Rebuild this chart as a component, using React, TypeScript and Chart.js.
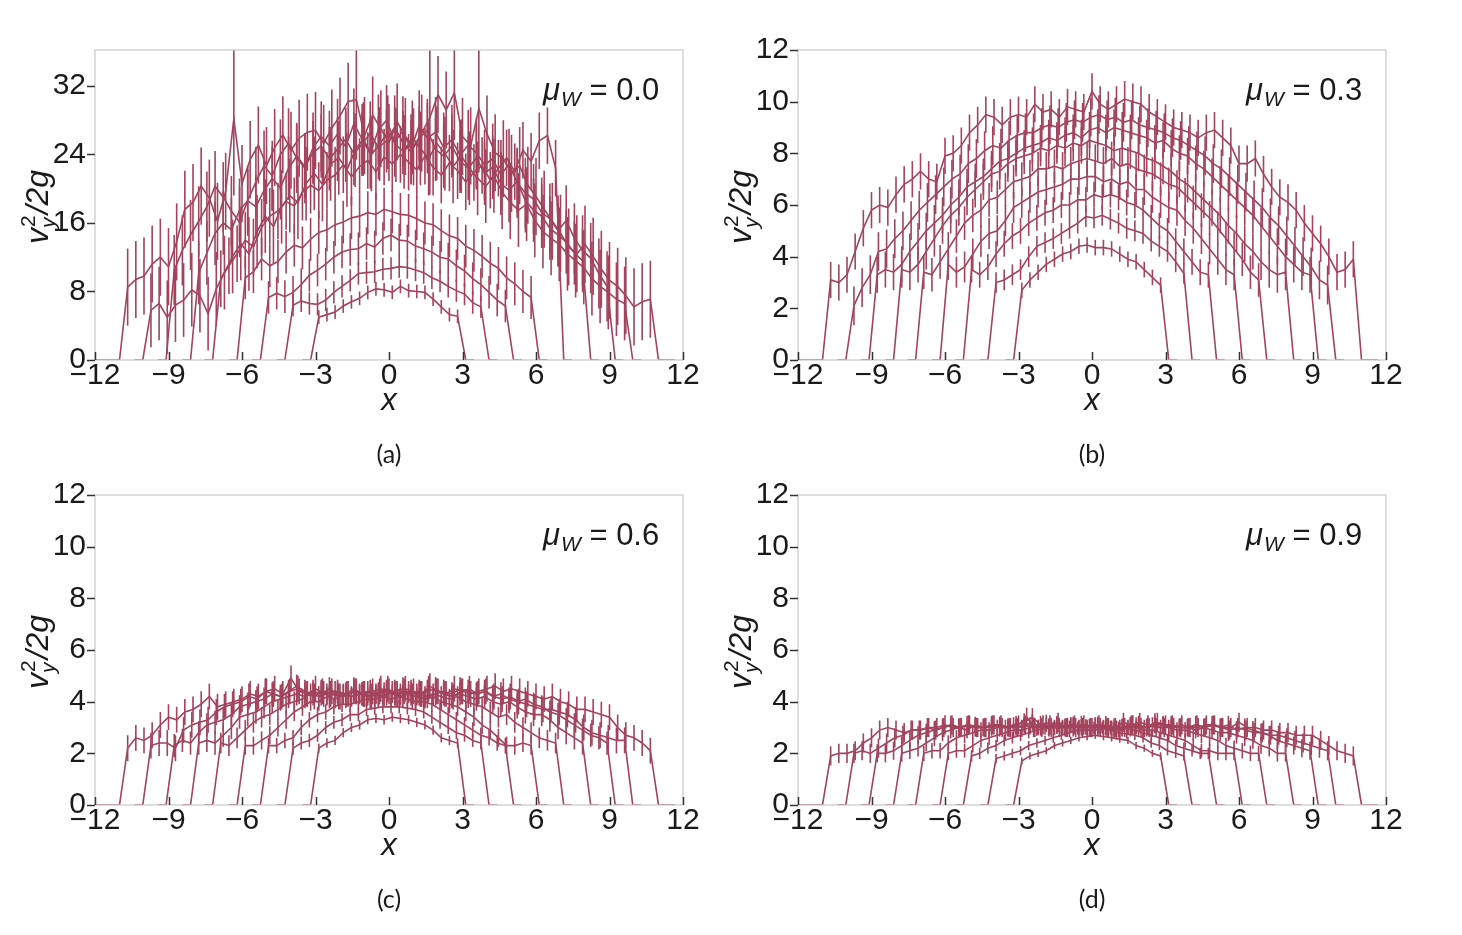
import { useEffect, useRef } from "react";
import Chart from "chart.js/auto";

const LINE = "#a3435c";
const TEXT = "#1a1a1a";
const FONT = "'Liberation Sans', Arial, sans-serif";
const STEP = 1 / 3;

// each curve is sampled every 1/3 between its two walls
const halfWidths = [3.2, 4.25, 5.25, 6.2, 7.2, 8.1, 9.1, 10.05, 11.0];
const padLeft = [2, 2, 2, 2, 2, 2, 2, 2, 4];
const padRight = [2, 2, 2, 2, 2, 2, 2, 2, 3];
const xTicks = [-12, -9, -6, -3, 0, 3, 6, 9, 12];

// (a) mu_W = 0.0
const a1 = [5.0, 5.3, 5.6, 6.3, 6.8, 7.2, 7.9, 8.3, 8.2, 7.9, 8.6, 8.1, 8.0, 7.9, 7.1, 6.2, 5.3, 5.1];
const a2 = [6.4, 6.9, 6.6, 6.5, 7.0, 7.9, 8.6, 9.3, 10.1, 10.2, 10.3, 10.6, 10.7, 10.9, 10.8, 10.5, 10.2, 9.6, 9.2, 8.6, 8.1, 7.7, 6.7, 6.2];
const a3 = [7.3, 7.8, 7.4, 7.9, 8.8, 9.9, 10.5, 11.2, 12.0, 12.6, 12.9, 13.0, 13.6, 13.2, 14.2, 14.6, 14.0, 13.9, 13.3, 13.0, 12.6, 12.0, 11.8, 11.0, 10.4, 9.5, 8.8, 7.9, 7.0, 6.3];
const a4 = [9.6, 10.3, 11.8, 11.0, 11.5, 12.6, 13.4, 13.1, 14.1, 14.9, 15.2, 15.8, 16.1, 16.6, 16.8, 17.2, 17.0, 17.6, 17.3, 17.0, 16.9, 16.5, 16.0, 15.8, 15.1, 14.5, 14.2, 13.3, 12.8, 12.1, 11.3, 10.7, 9.6, 8.9, 8.0, 7.3];
const a5 = [9.5, 11.0, 12.4, 14.0, 13.2, 15.5, 16.8, 17.4, 18.5, 18.0, 19.6, 20.4, 19.8, 21.0, 21.6, 22.8, 21.4, 22.6, 23.3, 22.0, 23.7, 22.9, 24.0, 23.1, 22.2, 23.8, 22.5, 21.6, 23.0, 22.1, 20.8, 21.9, 22.7, 21.0, 22.4, 23.6, 22.0, 24.5, 23.2, 25.6, 26.2, 22.4];
const a6 = [10.2, 12.5, 14.8, 16.0, 15.2, 17.5, 18.6, 17.9, 19.8, 21.2, 20.1, 22.4, 23.8, 22.6, 24.2, 25.0, 23.5, 24.6, 25.8, 24.1, 25.2, 26.5, 24.8, 25.6, 27.2, 25.4, 24.3, 25.9, 26.8, 24.6, 23.8, 25.0, 23.2, 22.4, 23.6, 21.8, 22.5, 20.6, 19.8, 20.9, 18.6, 17.5, 16.8, 15.4, 14.6, 13.8, 12.5, 11.6];
const a7 = [10.5, 12.8, 14.6, 16.2, 17.9, 20.3, 19.0, 17.4, 16.1, 18.6, 20.8, 22.7, 21.5, 24.0, 25.3, 23.6, 22.4, 24.8, 26.1, 25.0, 26.4, 24.9, 27.6, 25.8, 24.1, 26.9, 28.0, 25.5, 26.7, 24.6, 27.4, 25.9, 26.6, 24.8, 25.7, 23.9, 25.1, 24.2, 22.8, 23.5, 21.6, 22.9, 20.7, 19.5, 18.8, 17.2, 16.5, 15.1, 16.3, 14.2, 12.8, 11.9, 10.1, 8.6];
const a8 = [5.8, 6.6, 5.0, 6.4, 7.0, 8.2, 7.5, 5.4, 8.3, 10.2, 12.1, 13.6, 12.4, 15.0, 16.8, 15.6, 17.9, 19.2, 18.4, 20.6, 21.8, 20.5, 22.9, 23.6, 22.2, 24.5, 25.8, 24.0, 25.2, 26.6, 25.1, 24.3, 26.0, 24.7, 23.5, 25.3, 24.1, 22.6, 23.8, 22.4, 21.2, 20.3, 21.5, 19.6, 18.4, 17.5, 18.2, 16.3, 15.0, 14.2, 13.5, 12.4, 11.6, 10.8, 9.5, 8.6, 7.9, 7.1, 6.6];
const a9 = [8.5, 9.4, 9.8, 11.2, 12.0, 10.9, 13.8, 17.6, 18.4, 20.3, 18.9, 16.2, 19.7, 28.2, 20.6, 23.4, 25.1, 22.7, 24.8, 26.3, 24.5, 25.9, 26.6, 26.8, 25.3, 27.1, 28.5, 30.2, 30.4, 26.2, 28.6, 27.0, 25.4, 27.8, 26.1, 24.9, 26.5, 28.3, 31.0, 29.2, 31.2, 26.1, 25.0, 29.4, 26.4, 24.2, 23.5, 21.8, 22.7, 20.4, 19.1, 17.6, 16.2, 14.8, 13.2, 12.4, 13.5, 12.1, 10.6, 9.3, 8.6, 7.5, 6.2, 6.8, 7.1];
const errA = [0.8, 1.3, 1.9, 2.5, 3.3, 3.7, 4.1, 4.3, 4.5];
// single bars in (a) that run up past the frame: [curve, point, half-length]
const spikesA = [[8, 13, 9], [8, 28, 7], [8, 37, 9], [8, 40, 5.5], [8, 43, 7.5]];

// (b) mu_W = 0.3
const b1 = [2.7, 3.1, 3.4, 3.7, 3.9, 4.1, 4.2, 4.4, 4.45, 4.35, 4.35, 4.3, 4.1, 3.9, 3.8, 3.5, 3.2, 2.9];
const b2 = [3.0, 3.1, 3.3, 3.5, 4.0, 4.4, 4.55, 4.7, 4.9, 5.1, 5.3, 5.55, 5.5, 5.6, 5.45, 5.3, 5.1, 5.0, 4.9, 4.6, 4.4, 4.2, 3.8, 3.35];
const b3 = [3.5, 3.3, 3.6, 4.1, 4.5, 4.8, 5.0, 5.3, 5.5, 5.7, 5.8, 6.0, 6.0, 6.2, 6.2, 6.4, 6.3, 6.4, 6.3, 6.1, 6.0, 5.8, 5.5, 5.2, 5.0, 4.6, 4.2, 3.8, 3.4, 3.3];
const b4 = [3.7, 3.4, 3.6, 4.1, 4.6, 4.9, 5.0, 5.4, 5.9, 6.1, 6.3, 6.5, 6.6, 6.7, 6.8, 7.0, 7.0, 7.1, 7.1, 6.9, 7.0, 6.8, 6.9, 6.6, 6.6, 6.3, 6.1, 5.9, 5.8, 5.4, 5.1, 4.7, 4.3, 3.9, 3.5, 3.3];
const b5 = [3.4, 3.3, 3.8, 4.3, 4.8, 5.3, 5.6, 5.8, 6.2, 6.3, 6.6, 6.9, 7.0, 7.1, 7.4, 7.4, 7.5, 7.4, 7.6, 7.7, 7.8, 7.7, 7.6, 7.8, 7.5, 7.6, 7.4, 7.3, 7.2, 7.0, 6.8, 6.7, 6.4, 6.1, 5.8, 5.5, 5.1, 4.7, 4.3, 3.9, 3.4, 3.1];
const b6 = [3.5, 3.4, 3.7, 4.2, 4.7, 5.2, 5.6, 5.9, 6.3, 6.6, 6.9, 7.2, 7.3, 7.6, 7.8, 7.9, 8.0, 8.2, 8.1, 8.3, 8.2, 8.4, 8.3, 8.5, 8.4, 8.3, 8.1, 8.2, 8.1, 8.0, 7.8, 7.7, 7.5, 7.3, 7.0, 6.8, 6.5, 6.2, 5.9, 5.6, 5.2, 4.9, 4.5, 4.2, 3.8, 3.5, 3.3, 3.4];
const b7 = [3.3, 3.5, 3.4, 3.7, 4.2, 4.6, 5.0, 5.3, 5.6, 6.0, 6.3, 6.7, 6.9, 7.1, 7.4, 7.7, 7.8, 8.0, 8.2, 8.3, 8.4, 8.6, 8.5, 8.7, 8.8, 8.6, 8.9, 9.0, 8.8, 9.0, 8.9, 8.8, 8.7, 8.6, 8.4, 8.5, 8.2, 8.0, 7.9, 7.6, 7.4, 7.1, 6.8, 6.5, 6.2, 5.9, 5.6, 5.2, 4.8, 4.4, 4.0, 3.7, 3.4, 3.3];
const b8 = [2.1, 2.8, 3.3, 4.2, 4.3, 4.7, 5.0, 5.4, 5.8, 6.1, 6.4, 6.7, 7.0, 7.2, 7.6, 7.8, 8.1, 8.3, 8.2, 8.5, 8.7, 8.8, 8.8, 9.0, 9.1, 9.0, 9.2, 9.3, 9.2, 9.4, 9.5, 9.3, 9.4, 9.2, 9.3, 9.1, 9.0, 8.9, 8.8, 8.6, 8.5, 8.3, 8.1, 7.9, 7.6, 7.4, 7.1, 6.8, 6.5, 6.2, 5.9, 5.5, 5.2, 4.8, 4.4, 4.0, 3.6, 3.1, 2.9];
const b9 = [3.1, 3.0, 3.3, 4.2, 5.1, 5.8, 6.0, 5.9, 6.4, 6.8, 7.0, 7.3, 7.0, 6.9, 7.9, 8.0, 8.3, 8.8, 9.1, 9.5, 9.4, 9.1, 9.4, 9.5, 9.4, 9.9, 9.6, 9.7, 9.4, 9.8, 9.7, 9.6, 10.4, 9.9, 9.7, 9.9, 10.1, 10.0, 9.9, 9.6, 9.4, 9.2, 9.0, 8.9, 8.8, 8.6, 8.8, 8.9, 8.6, 8.3, 7.6, 7.6, 7.8, 7.2, 6.7, 6.3, 6.1, 5.8, 5.3, 4.9, 4.5, 4.0, 3.4, 3.5, 3.9];
const errB = [0.3, 0.4, 0.5, 0.6, 0.65, 0.7, 0.7, 0.75, 0.7];

// (c) mu_W = 0.6
const c1 = [2.2, 2.4, 2.5, 2.8, 3.0, 3.1, 3.3, 3.35, 3.3, 3.4, 3.35, 3.3, 3.2, 3.1, 2.9, 2.6, 2.5, 2.4];
const c2 = [2.2, 2.4, 2.5, 2.7, 3.0, 3.2, 3.3, 3.5, 3.5, 3.7, 3.75, 3.8, 3.8, 3.8, 3.75, 3.7, 3.6, 3.4, 3.2, 3.0, 2.8, 2.7, 2.5, 2.4];
const c3 = [2.3, 2.3, 2.5, 2.6, 3.0, 3.3, 3.5, 3.6, 3.8, 3.9, 3.9, 4.0, 4.1, 4.1, 4.2, 4.1, 4.2, 4.1, 4.0, 4.0, 3.9, 3.7, 3.5, 3.3, 3.1, 2.9, 2.7, 2.6, 2.4, 2.3];
const c4 = [2.3, 2.3, 2.5, 2.7, 3.0, 3.3, 3.6, 3.8, 4.0, 4.0, 4.2, 4.1, 4.3, 4.2, 4.3, 4.2, 4.3, 4.4, 4.3, 4.2, 4.3, 4.2, 4.1, 4.2, 4.0, 3.9, 3.8, 3.6, 3.4, 3.1, 2.9, 2.6, 2.3, 2.3, 2.4, 2.3];
const c5 = [2.4, 2.3, 2.6, 2.9, 3.2, 3.4, 3.5, 3.7, 3.9, 4.0, 4.1, 4.3, 4.2, 4.3, 4.4, 4.3, 4.2, 4.3, 4.4, 4.3, 4.2, 4.4, 4.3, 4.4, 4.3, 4.2, 4.3, 4.2, 4.1, 4.2, 4.0, 3.9, 3.8, 3.6, 3.4, 3.5, 3.2, 3.0, 2.8, 2.6, 2.5, 2.4];
const c6 = [2.4, 2.5, 2.4, 2.7, 3.0, 3.4, 3.5, 3.6, 3.8, 4.0, 4.1, 4.2, 4.3, 4.2, 4.4, 4.3, 4.5, 4.3, 4.2, 4.4, 4.3, 4.2, 4.3, 4.4, 4.3, 4.2, 4.4, 4.3, 4.4, 4.5, 4.3, 4.2, 4.3, 4.2, 4.1, 4.2, 4.0, 3.9, 4.0, 3.8, 3.6, 3.5, 3.5, 3.3, 3.0, 2.8, 2.6, 2.4];
const c7 = [2.3, 2.5, 2.4, 2.8, 3.1, 3.2, 3.3, 3.5, 3.8, 3.9, 4.0, 4.1, 4.3, 4.2, 4.4, 4.6, 4.4, 4.3, 4.4, 4.2, 4.4, 4.3, 4.5, 4.3, 4.4, 4.2, 4.3, 4.4, 4.5, 4.3, 4.4, 4.2, 4.3, 4.4, 4.3, 4.5, 4.4, 4.3, 4.4, 4.2, 4.3, 4.1, 4.0, 4.1, 3.9, 3.8, 3.6, 3.5, 3.3, 3.1, 2.9, 2.7, 2.6, 2.4];
const c8 = [2.3, 2.4, 2.4, 2.2, 2.9, 3.1, 3.2, 3.3, 3.6, 3.8, 3.9, 4.0, 4.2, 4.1, 4.4, 4.3, 4.2, 4.4, 4.5, 4.3, 4.2, 4.4, 4.3, 4.2, 4.3, 4.4, 4.3, 4.2, 4.4, 4.5, 4.3, 4.4, 4.2, 4.3, 4.5, 4.4, 4.3, 4.2, 4.4, 4.5, 4.3, 4.4, 4.2, 4.1, 4.2, 4.0, 3.9, 3.8, 3.7, 3.7, 3.6, 3.5, 3.3, 3.0, 2.8, 2.7, 2.6, 2.5, 2.5];
const c9 = [2.2, 2.6, 2.5, 2.7, 3.1, 3.4, 3.3, 3.6, 3.7, 3.9, 4.2, 3.8, 3.9, 4.0, 4.1, 4.3, 4.2, 4.4, 4.5, 4.3, 4.9, 4.4, 4.3, 4.5, 4.3, 4.4, 4.2, 4.3, 4.4, 4.3, 4.4, 4.5, 4.4, 4.3, 4.5, 4.4, 4.3, 4.6, 4.4, 4.3, 4.5, 4.4, 4.3, 4.4, 4.5, 4.6, 4.4, 4.5, 4.4, 4.3, 4.2, 4.1, 4.2, 4.0, 3.9, 3.7, 3.7, 3.6, 3.5, 3.4, 3.0, 2.7, 2.6, 2.4, 2.1];
const errC = [0.18, 0.25, 0.3, 0.35, 0.4, 0.45, 0.45, 0.5, 0.5];

// (d) mu_W = 0.9
const d1 = [1.7, 1.9, 2.0, 2.1, 2.3, 2.4, 2.5, 2.6, 2.65, 2.7, 2.65, 2.6, 2.55, 2.5, 2.3, 2.2, 2.0, 1.9];
const d2 = [1.8, 1.9, 2.0, 2.1, 2.3, 2.4, 2.5, 2.6, 2.7, 2.8, 2.9, 2.9, 2.9, 2.95, 2.9, 2.8, 2.75, 2.7, 2.6, 2.4, 2.3, 2.1, 2.0, 1.9];
const d3 = [1.9, 2.0, 2.2, 2.3, 2.5, 2.6, 2.7, 2.8, 2.9, 2.95, 3.0, 3.0, 3.05, 3.0, 3.1, 3.0, 3.0, 3.05, 3.0, 2.95, 2.9, 2.8, 2.7, 2.6, 2.5, 2.3, 2.2, 2.1, 2.0, 2.0];
const d4 = [2.0, 2.1, 2.1, 2.3, 2.5, 2.6, 2.7, 2.8, 2.9, 2.9, 3.0, 3.0, 3.1, 3.0, 3.0, 3.1, 3.0, 3.0, 3.1, 3.0, 3.0, 2.9, 3.0, 3.0, 2.9, 2.9, 2.8, 2.7, 2.6, 2.5, 2.3, 2.1, 2.1, 2.0, 2.0, 2.0];
const d5 = [2.0, 2.1, 2.1, 2.4, 2.6, 2.7, 2.8, 2.9, 2.9, 3.0, 3.0, 3.1, 3.0, 3.1, 3.0, 3.2, 3.0, 3.0, 3.1, 3.0, 3.0, 3.1, 3.0, 2.9, 3.0, 3.0, 3.1, 3.0, 3.1, 3.0, 3.0, 2.9, 2.9, 2.8, 2.7, 2.6, 2.5, 2.3, 2.2, 2.1, 2.0, 2.0];
const d6 = [2.0, 2.1, 2.2, 2.4, 2.6, 2.8, 2.9, 3.0, 2.9, 3.1, 3.0, 3.0, 3.1, 3.0, 3.0, 3.1, 3.2, 3.0, 3.0, 3.1, 3.0, 3.1, 3.0, 3.0, 3.1, 3.0, 2.9, 3.0, 3.1, 3.0, 3.0, 3.1, 3.1, 3.0, 3.0, 3.0, 2.9, 3.0, 2.9, 2.8, 2.8, 2.7, 2.6, 2.5, 2.3, 2.2, 2.0, 2.0];
const d7 = [2.0, 2.0, 2.1, 2.3, 2.5, 2.7, 2.8, 2.9, 3.0, 3.1, 3.0, 3.1, 3.0, 3.0, 3.1, 3.0, 3.0, 3.1, 3.2, 3.4, 3.1, 3.0, 3.1, 3.0, 3.0, 3.1, 3.0, 3.0, 3.1, 3.0, 3.0, 3.0, 3.1, 3.0, 3.2, 3.1, 3.1, 3.0, 3.0, 3.1, 3.0, 3.1, 3.0, 3.1, 2.9, 3.0, 2.9, 2.8, 2.7, 2.5, 2.4, 2.3, 2.2, 2.1];
const d8 = [2.0, 2.1, 2.0, 2.2, 2.4, 2.6, 2.7, 2.9, 2.9, 3.0, 2.9, 3.0, 3.1, 3.0, 3.1, 3.0, 3.0, 3.1, 3.1, 3.0, 3.0, 3.1, 3.0, 3.0, 3.1, 3.2, 3.0, 3.1, 3.0, 3.0, 3.1, 3.0, 3.0, 3.2, 3.1, 3.2, 3.1, 3.0, 3.0, 3.1, 3.0, 3.0, 3.1, 3.0, 3.1, 3.0, 2.9, 3.0, 2.9, 2.8, 2.8, 2.7, 2.7, 2.6, 2.5, 2.4, 2.3, 2.2, 2.1];
const d9 = [1.9, 2.0, 2.0, 2.1, 2.4, 2.6, 2.9, 3.0, 2.9, 2.8, 2.9, 2.9, 3.0, 3.0, 3.1, 3.0, 3.0, 3.1, 3.0, 3.0, 3.1, 3.0, 3.0, 3.1, 3.4, 3.0, 3.1, 3.0, 3.0, 3.0, 3.0, 3.1, 3.0, 3.0, 3.0, 2.9, 3.0, 3.1, 3.0, 3.0, 3.2, 3.1, 3.0, 3.1, 3.0, 3.0, 3.1, 3.1, 3.0, 3.0, 3.2, 3.0, 3.0, 2.9, 2.9, 2.8, 2.8, 2.7, 2.7, 2.7, 2.5, 2.3, 2.1, 2.0, 1.9];
const errD = [0.14, 0.18, 0.22, 0.27, 0.3, 0.32, 0.35, 0.37, 0.37];

type PanelCfg = {
  curves: number[][];
  errs: number[];
  spikes: number[][];
  yMax: number;
  yTicks: number[];
  mu: string;
  caption: string;
  left: number;
  top: number;
};

const panels: PanelCfg[] = [
  { curves: [a1, a2, a3, a4, a5, a6, a7, a8, a9], errs: errA, spikes: spikesA, yMax: 36.2, yTicks: [0, 8, 16, 24, 32], mu: "0.0", caption: "(a)", left: 0, top: 0 },
  { curves: [b1, b2, b3, b4, b5, b6, b7, b8, b9], errs: errB, spikes: [], yMax: 12, yTicks: [0, 2, 4, 6, 8, 10, 12], mu: "0.3", caption: "(b)", left: 703, top: 0 },
  { curves: [c1, c2, c3, c4, c5, c6, c7, c8, c9], errs: errC, spikes: [], yMax: 12, yTicks: [0, 2, 4, 6, 8, 10, 12], mu: "0.6", caption: "(c)", left: 0, top: 445 },
  { curves: [d1, d2, d3, d4, d5, d6, d7, d8, d9], errs: errD, spikes: [], yMax: 12, yTicks: [0, 2, 4, 6, 8, 10, 12], mu: "0.9", caption: "(d)", left: 703, top: 445 },
];

type Pt = { x: number; y: number; e: number };

function curvePoints(vals: number[], k: number, err: number, spikes: number[][]): Pt[] {
  const start = -halfWidths[k] + STEP;
  const pts: Pt[] = [];
  for (let i = padLeft[k]; i > 0; i--) pts.push({ x: start - i * STEP, y: 0, e: 0 });
  vals.forEach((v, i) => {
    const s = spikes.find((sp) => sp[0] === k && sp[1] === i);
    pts.push({ x: start + i * STEP, y: v, e: s ? s[2] : err });
  });
  for (let i = 1; i <= padRight[k]; i++) pts.push({ x: start + (vals.length - 1 + i) * STEP, y: 0, e: 0 });
  return pts;
}

const fmt = (v: number | string) => {
  const n = Number(v);
  return n < 0 ? "\u2212" + Math.abs(n) : String(n);
};

function framePlugin(p: PanelCfg) {
  return {
    id: "frame",
    afterDatasetsDraw(chart: any) {
      const { ctx, chartArea: a, scales } = chart;
      // error bars
      ctx.save();
      ctx.beginPath();
      ctx.rect(a.left, a.top, a.right - a.left, a.bottom - a.top);
      ctx.clip();
      ctx.strokeStyle = LINE;
      ctx.lineWidth = 1.6;
      chart.data.datasets.forEach((ds: any, i: number) => {
        const meta = chart.getDatasetMeta(i);
        ds.data.forEach((pt: Pt, j: number) => {
          if (!pt.e) return;
          const el = meta.data[j];
          ctx.beginPath();
          ctx.moveTo(el.x, scales.y.getPixelForValue(pt.y + pt.e));
          ctx.lineTo(el.x, scales.y.getPixelForValue(pt.y - pt.e));
          ctx.stroke();
        });
      });
      ctx.restore();
    },
    afterDraw(chart: any) {
      const { ctx, chartArea: a, scales } = chart;
      ctx.save();
      // box
      ctx.strokeStyle = "#c8c8c8";
      ctx.lineWidth = 1.2;
      ctx.strokeRect(a.left, a.top, a.right - a.left, a.bottom - a.top);
      // tick marks: y outwards, x inwards
      ctx.strokeStyle = "#333";
      ctx.lineWidth = 1.5;
      p.yTicks.forEach((v) => {
        const y = Math.round(scales.y.getPixelForValue(v)) + 0.5;
        ctx.beginPath();
        ctx.moveTo(a.left - 8, y);
        ctx.lineTo(a.left, y);
        ctx.stroke();
      });
      xTicks.forEach((v) => {
        const x = Math.round(scales.x.getPixelForValue(v)) + 0.5;
        ctx.beginPath();
        ctx.moveTo(x, a.bottom);
        ctx.lineTo(x, a.bottom - 8);
        ctx.stroke();
      });

      ctx.fillStyle = TEXT;
      ctx.textBaseline = "alphabetic";
      // x title
      ctx.font = `italic 31px ${FONT}`;
      ctx.textAlign = "center";
      ctx.fillText("x", (a.left + a.right) / 2, a.bottom + 50);

      // y title, rotated
      ctx.textAlign = "left";
      ctx.save();
      ctx.translate(48, a.top + 194);
      ctx.rotate(-Math.PI / 2);
      let cx = 0;
      ctx.font = `italic 32px ${FONT}`;
      ctx.fillText("v", cx, 0);
      cx += ctx.measureText("v").width + 1;
      ctx.font = `21px ${FONT}`;
      ctx.fillText("2", cx, -13);
      const w2 = ctx.measureText("2").width;
      ctx.font = `italic 21px ${FONT}`;
      ctx.fillText("y", cx - 1, 7);
      cx += Math.max(w2, ctx.measureText("y").width) + 1;
      ctx.font = `italic 32px ${FONT}`;
      ctx.fillText("/2g", cx, 0);
      ctx.restore();

      // mu_W label
      let mx = a.left + 448;
      const my = a.top + 50;
      ctx.font = `italic 31px ${FONT}`;
      ctx.fillText("\u03bc", mx, my);
      mx += ctx.measureText("\u03bc").width + 1;
      ctx.font = `italic 21px ${FONT}`;
      ctx.fillText("W", mx, my + 6);
      mx += ctx.measureText("W").width;
      ctx.font = `31px ${FONT}`;
      ctx.fillText(" = " + p.mu, mx, my);
      ctx.restore();
    },
  };
}

function Panel({ cfg }: { cfg: PanelCfg }) {
  const canvasRef = useRef<HTMLCanvasElement>(null);

  useEffect(() => {
    if (!canvasRef.current) return;
    const datasets = cfg.curves.map((vals, k) => ({
      data: curvePoints(vals, k, cfg.errs[k], cfg.spikes),
      borderColor: LINE,
      borderWidth: 1.6,
      pointRadius: 0,
      tension: 0,
      fill: false,
    }));
    const tickFont = { family: FONT, size: 30 };
    const chart = new Chart(canvasRef.current, {
      type: "line",
      data: { datasets },
      options: {
        animation: false,
        responsive: false,
        maintainAspectRatio: false,
        events: [],
        layout: { padding: { top: 50, right: 20, left: 0, bottom: 0 } },
        plugins: { legend: { display: false }, tooltip: { enabled: false } },
        scales: {
          x: {
            type: "linear",
            min: -12,
            max: 12,
            grid: { display: false, drawTicks: false },
            border: { display: false },
            afterBuildTicks: (s: any) => {
              s.ticks = xTicks.map((v) => ({ value: v }));
            },
            afterFit: (s: any) => {
              s.height = 85;
            },
            ticks: { autoSkip: false, maxRotation: 0, padding: -2, color: TEXT, font: tickFont, callback: fmt },
          },
          y: {
            type: "linear",
            min: 0,
            max: cfg.yMax,
            grid: { display: false, drawTicks: false },
            border: { display: false },
            afterBuildTicks: (s: any) => {
              s.ticks = cfg.yTicks.map((v) => ({ value: v }));
            },
            afterFit: (s: any) => {
              s.width = 95;
            },
            ticks: { autoSkip: false, padding: 9, color: TEXT, font: tickFont, callback: fmt },
          },
        },
      } as any,
      plugins: [framePlugin(cfg)],
    });
    return () => {
      chart.destroy();
    };
  }, [cfg]);

  return (
    <>
      <canvas
        ref={canvasRef}
        width={703}
        height={445}
        style={{ position: "absolute", left: cfg.left, top: cfg.top, width: 703, height: 445 }}
      ></canvas>
      <div
        style={{
          position: "absolute",
          left: cfg.left + 389 - 30,
          top: cfg.top + 438,
          width: 60,
          textAlign: "center",
          font: "25px Lato, 'Open Sans', sans-serif",
          lineHeight: "30px",
          color: TEXT,
        }}
      >
        {cfg.caption}
      </div>
    </>
  );
}

export default function App() {
  return (
    <div style={{ position: "absolute", left: 0, top: 0, width: 1462, height: 935, background: "#fff" }}>
      {panels.map((p) => (
        <Panel key={p.caption} cfg={p} />
      ))}
    </div>
  );
}
